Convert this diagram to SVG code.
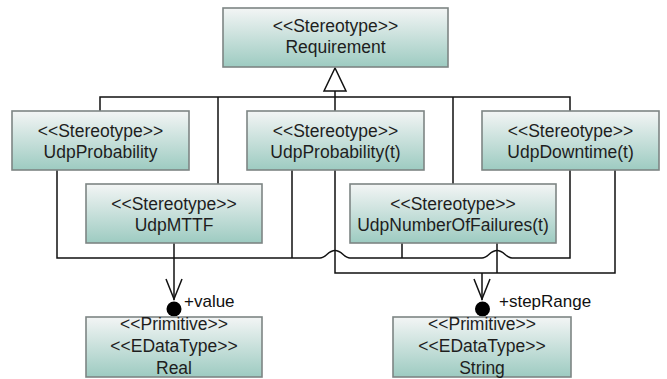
<svg xmlns="http://www.w3.org/2000/svg" width="667" height="379" viewBox="0 0 667 379">
  <defs>
    <linearGradient id="boxFill" x1="0" y1="0" x2="0" y2="1">
      <stop offset="0" stop-color="#f3f5f5"/>
      <stop offset="1" stop-color="#9dcbc1"/>
    </linearGradient>
  </defs>
  <style>
    .box { fill: url(#boxFill); stroke: #7d8584; stroke-width: 1.6; }
    .lbl { font-family: "Liberation Sans", Arial, sans-serif; font-size: 17.5px; fill: #1e1e1e; text-anchor: middle; }
    .role { font-family: "Liberation Sans", Arial, sans-serif; font-size: 17px; fill: #111; }
    .wire { fill: none; stroke: #111; stroke-width: 1.5; }
    .head { fill: #fff; stroke: #111; stroke-width: 1.5; }
    .dot { fill: #000; }
  </style>

  <!-- connectors -->
  <g id="connectors">
    <!-- generalization tree up to Requirement -->
    <polygon class="head" points="335,68 324,91 346,91"/>
    <path class="wire" d="M335,91 V111 M100,111 V97 H570 V111 M218,97 V184 M453,97 V184"/>

    <!-- attribute 'value' bus -->
    <path class="wire" d="M57,170 V258 H320 C326,258 328,250.5 335,250.5 C342,250.5 344,258 350,258 H482 C488,258 490,250.5 497,250.5 C504,250.5 506,258 512,258 H570 V170"/>
    <path class="wire" d="M292,170 V258 M402,243 V258"/>
    <path class="wire" d="M174,243 V300"/>
    <path class="wire" d="M166,279 L174,299 L182,279"/>
    <circle class="dot" cx="174" cy="309" r="7.5"/>

    <!-- attribute 'stepRange' bus -->
    <path class="wire" d="M335,170 V273 H615 V170 M497,243 V273 M482,273 V300"/>
    <path class="wire" d="M474,279 L482,299 L490,279"/>
    <circle class="dot" cx="482.5" cy="309" r="7.5"/>

    <text class="role" x="184" y="307">+value</text>
    <text class="role" x="499" y="307">+stepRange</text>
  </g>

  <g id="Requirement">
    <rect class="box" x="223" y="8" width="225" height="59"/>
    <text class="lbl" x="335.5" y="32">&lt;&lt;Stereotype&gt;&gt;</text>
    <text class="lbl" x="335.5" y="53">Requirement</text>
  </g>

  <g id="UdpProbability">
    <rect class="box" x="12" y="111" width="177" height="59"/>
    <text class="lbl" x="100.5" y="137">&lt;&lt;Stereotype&gt;&gt;</text>
    <text class="lbl" x="100.5" y="158">UdpProbability</text>
  </g>

  <g id="UdpProbabilityT">
    <rect class="box" x="247" y="111" width="177" height="59"/>
    <text class="lbl" x="335.5" y="137">&lt;&lt;Stereotype&gt;&gt;</text>
    <text class="lbl" x="335.5" y="158">UdpProbability(t)</text>
  </g>

  <g id="UdpDowntime">
    <rect class="box" x="482" y="111" width="177" height="59"/>
    <text class="lbl" x="570.5" y="137">&lt;&lt;Stereotype&gt;&gt;</text>
    <text class="lbl" x="570.5" y="158">UdpDowntime(t)</text>
  </g>

  <g id="UdpMTTF">
    <rect class="box" x="86" y="184" width="176" height="59"/>
    <text class="lbl" x="174" y="210">&lt;&lt;Stereotype&gt;&gt;</text>
    <text class="lbl" x="174" y="231">UdpMTTF</text>
  </g>

  <g id="UdpNumberOfFailures">
    <rect class="box" x="350" y="184" width="206" height="59"/>
    <text class="lbl" x="453" y="210">&lt;&lt;Stereotype&gt;&gt;</text>
    <text class="lbl" x="453" y="231">UdpNumberOfFailures(t)</text>
  </g>

  <g id="Real">
    <rect class="box" x="86" y="317" width="176" height="60"/>
    <text class="lbl" x="174" y="330">&lt;&lt;Primitive&gt;&gt;</text>
    <text class="lbl" x="174" y="352">&lt;&lt;EDataType&gt;&gt;</text>
    <text class="lbl" x="174" y="374">Real</text>
  </g>

  <g id="String">
    <rect class="box" x="393" y="317" width="178" height="60"/>
    <text class="lbl" x="482" y="330">&lt;&lt;Primitive&gt;&gt;</text>
    <text class="lbl" x="482" y="352">&lt;&lt;EDataType&gt;&gt;</text>
    <text class="lbl" x="482" y="374">String</text>
  </g>
</svg>
